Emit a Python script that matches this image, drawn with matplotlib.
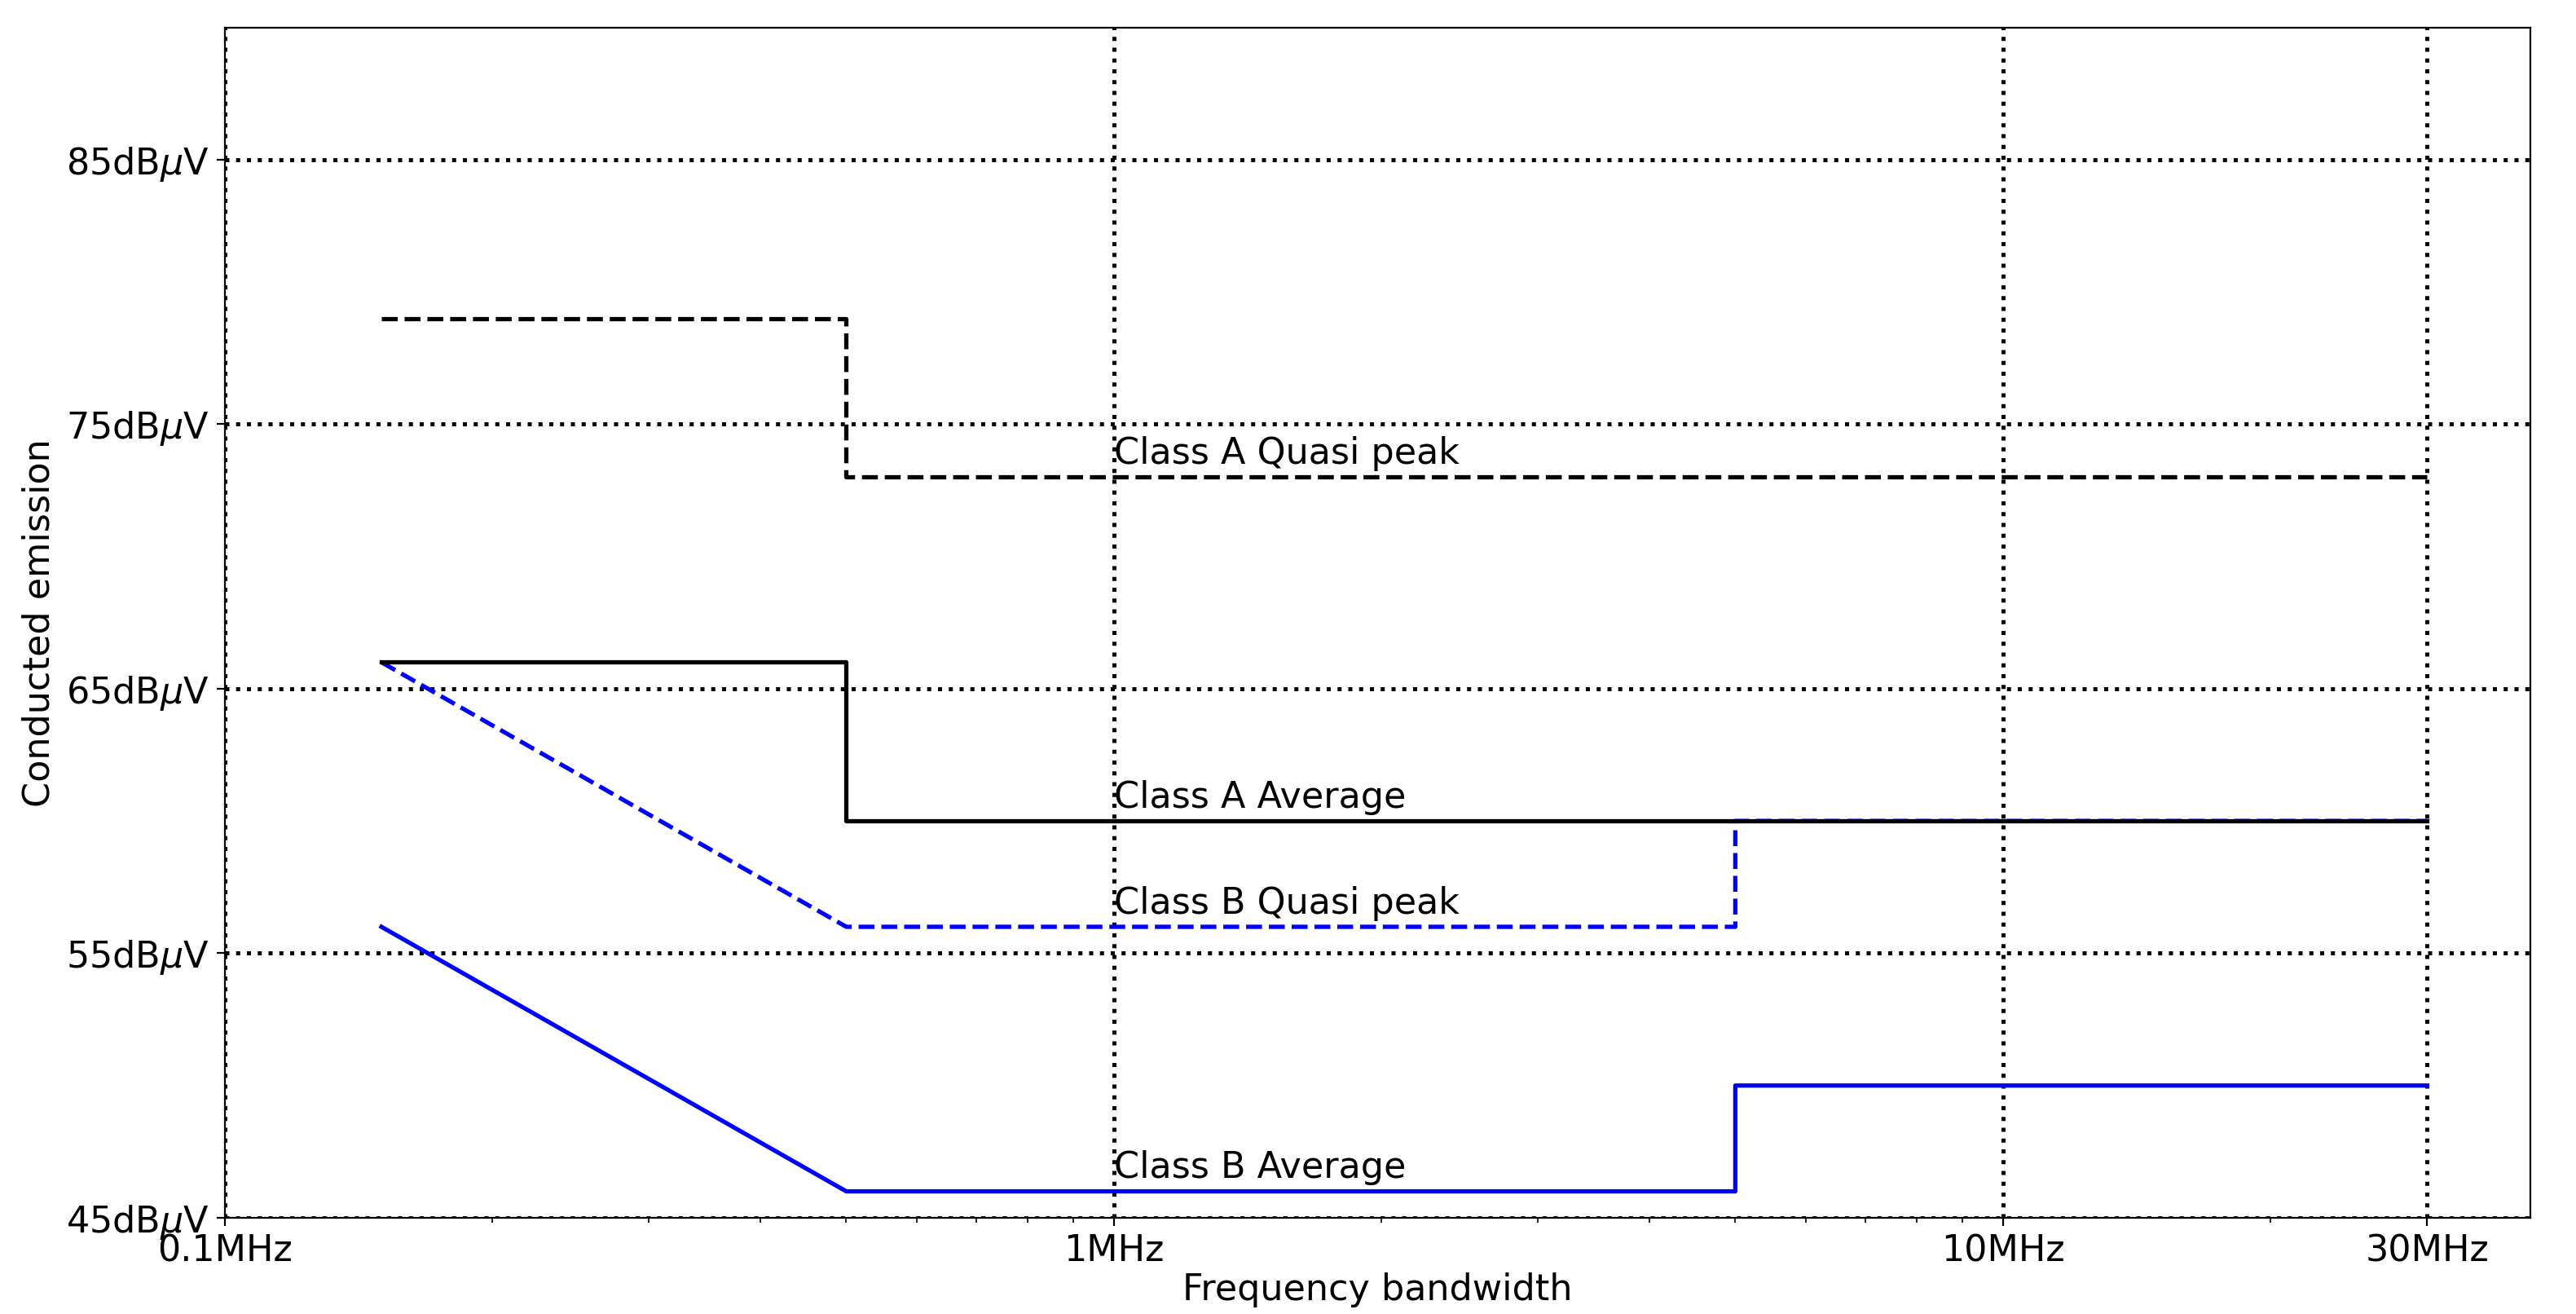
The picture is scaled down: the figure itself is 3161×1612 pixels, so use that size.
import matplotlib
matplotlib.use("Agg")
import matplotlib.pyplot as plt
import numpy as np

# EN 55022 / CISPR 22 conducted emission limits
class_a_qp_f = [0.15, 0.5, 0.5, 30]
class_a_qp_db = [79, 79, 73, 73]
class_a_avg_f = [0.15, 0.5, 0.5, 30]
class_a_avg_db = [66, 66, 60, 60]
class_b_qp_f = [0.15, 0.5, 5, 5, 30]
class_b_qp_db = [66, 56, 56, 60, 60]
class_b_avg_f = [0.15, 0.5, 5, 5, 30]
class_b_avg_db = [56, 46, 46, 50, 50]

xticks = [0.1, 1, 10, 30]
xtick_labels = ["0.1MHz", "1MHz", "10MHz", "30MHz"]
yticks = [45, 55, 65, 75, 85]
ytick_labels = [r"%ddB$\mu$V" % v for v in yticks]

labels = ["Class A Quasi peak", "Class A Average", "Class B Quasi peak", "Class B Average"]
label_y = [73.5, 60.5, 56.5, 46.5]

plt.rcParams["font.size"] = 16
fig = plt.figure(figsize=(15.805, 8.06), dpi=200)
ax = fig.add_axes([0.0873, 0.0732, 0.895, 0.906])

# class B first so the black class A lines sit on top where they overlap
ax.plot(class_b_qp_f, class_b_qp_db, color="blue", linestyle="--", linewidth=1.9)
ax.plot(class_b_avg_f, class_b_avg_db, color="blue", linestyle="-", linewidth=1.9)
ax.plot(class_a_qp_f, class_a_qp_db, color="black", linestyle="--", linewidth=1.9)
ax.plot(class_a_avg_f, class_a_avg_db, color="black", linestyle="-", linewidth=1.9)

for txt, y in zip(labels, label_y):
    ax.text(1, y, txt)

ax.set_xscale("log")
ax.set_xlim(0.1, 39.2)
ax.set_ylim(45, 90)
ax.set_xticks(xticks)
ax.set_xticklabels(xtick_labels)
ax.set_yticks(yticks)
ax.set_yticklabels(ytick_labels)
ax.grid(True, which="major", color="black", linestyle=":", linewidth=1.8)

ax.set_xlabel("Frequency bandwidth", labelpad=1.5)
ax.set_ylabel("Conducted emission")

fig.savefig("out.png", dpi=200)
